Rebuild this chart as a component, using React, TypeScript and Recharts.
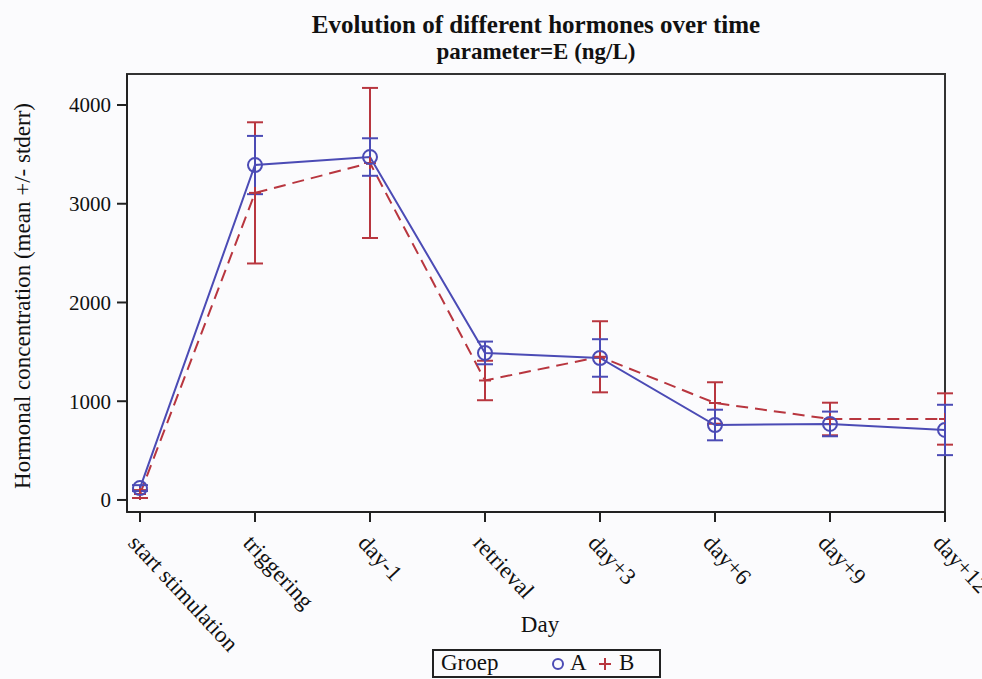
import { CartesianGrid, ErrorBar, Line, LineChart, ReferenceArea, XAxis, YAxis } from "recharts";

const DAYS = ["start stimulation", "triggering", "day-1", "retrieval", "day+3", "day+6", "day+9", "day+12"];
const GROUP_A = [120, 3392, 3473, 1489, 1438, 759, 770, 709];
const GROUP_A_ERR = [30, 295, 190, 115, 190, 155, 125, 255];
const GROUP_B = [60, 3110, 3413, 1210, 1450, 982, 820, 820];
const GROUP_B_ERR = [40, 715, 760, 200, 360, 210, 165, 260];
const Y_TICKS = [0, 1000, 2000, 3000, 4000];

const X_DOMAIN: [number, number] = [-0.113, 7];
const Y_DOMAIN: [number, number] = [-122, 4314];

const BLUE = "#4b4bb5";
const RED = "#b8363f";
const FONT = "'Liberation Serif', 'Times New Roman', serif";

const data = DAYS.map((d, i) => ({
  x: i,
  day: d,
  a: GROUP_A[i],
  aErr: GROUP_A_ERR[i],
  b: GROUP_B[i],
  bErr: GROUP_B_ERR[i],
}));

function CircleDot(props: any) {
  const { cx, cy, index } = props;
  if (cx == null || cy == null) return null;
  return <circle key={`a-${index}`} cx={cx} cy={cy} r={7} fill="none" stroke={BLUE} strokeWidth={2} />;
}

function PlusDot(props: any) {
  const { cx, cy, index } = props;
  if (cx == null || cy == null) return null;
  return (
    <g key={`b-${index}`} stroke={RED} strokeWidth={2}>
      <line x1={cx - 6} y1={cy} x2={cx + 6} y2={cy} />
      <line x1={cx} y1={cy - 6} x2={cx} y2={cy + 6} />
    </g>
  );
}

function DayTick(props: any) {
  const { x, y, payload } = props;
  const ax = x - 13;
  const ay = y + 20;
  return (
    <text
      x={ax}
      y={ay}
      transform={`rotate(47 ${ax} ${ay})`}
      textAnchor="start"
      fontFamily={FONT}
      fontSize={23}
      fill="#111"
    >
      {DAYS[payload.value]}
    </text>
  );
}

export default function App() {
  return (
    <div
      style={{
        position: "absolute",
        left: 0,
        top: 0,
        width: 982,
        height: 679,
        overflow: "hidden",
        background: "#fbfbfd",
        fontFamily: FONT,
        color: "#111",
      }}
    >
      <div style={{ position: "absolute", left: 127, width: 818, top: 10, lineHeight: "30px", textAlign: "center", fontWeight: "bold", fontSize: 25 }}>
        Evolution of different hormones over time
      </div>
      <div style={{ position: "absolute", left: 127, width: 818, top: 38, lineHeight: "28px", textAlign: "center", fontWeight: "bold", fontSize: 23 }}>
        parameter=E (ng/L)
      </div>

      <LineChart width={982} height={679} data={data} margin={{ top: 74, right: 37, bottom: 0, left: 0 }}>
        <CartesianGrid stroke="none" />
        <XAxis
          dataKey="x"
          type="number"
          domain={X_DOMAIN}
          ticks={DAYS.map((_, i) => i)}
          allowDataOverflow
          height={167}
          tickSize={10}
          axisLine={{ stroke: "#222", strokeWidth: 2 }}
          tickLine={{ stroke: "#222", strokeWidth: 2 }}
          tick={<DayTick />}
          interval={0}
        />
        <YAxis
          type="number"
          domain={Y_DOMAIN}
          ticks={Y_TICKS}
          allowDataOverflow
          width={127}
          tickSize={10}
          tickMargin={6}
          axisLine={{ stroke: "#222", strokeWidth: 2 }}
          tickLine={{ stroke: "#222", strokeWidth: 2 }}
          tick={{ fill: "#111", fontSize: 21, fontFamily: FONT }}
        />
        <ReferenceArea
          x1={X_DOMAIN[0]}
          x2={X_DOMAIN[1]}
          y1={Y_DOMAIN[0]}
          y2={Y_DOMAIN[1]}
          fill="none"
          stroke="#333"
          strokeWidth={2}
          ifOverflow="visible"
        />
        <Line
          dataKey="b"
          stroke={RED}
          strokeWidth={2}
          strokeDasharray="12 7"
          dot={PlusDot}
          activeDot={false}
          isAnimationActive={false}
        >
          <ErrorBar dataKey="bErr" width={8} stroke={RED} strokeWidth={2} direction="y" />
        </Line>
        <Line
          dataKey="a"
          stroke={BLUE}
          strokeWidth={2}
          dot={CircleDot}
          activeDot={false}
          isAnimationActive={false}
        >
          <ErrorBar dataKey="aErr" width={8} stroke={BLUE} strokeWidth={2} direction="y" />
        </Line>
      </LineChart>

      <div
        style={{
          position: "absolute",
          left: 23,
          top: 296,
          transform: "translate(-50%, -50%) rotate(-90deg)",
          whiteSpace: "nowrap",
          fontSize: 23,
        }}
      >
        Hormonal concentration (mean +/- stderr)
      </div>

      <div style={{ position: "absolute", left: 490, width: 100, top: 610, lineHeight: "30px", textAlign: "center", fontSize: 23 }}>Day</div>

      <div
        style={{
          position: "absolute",
          left: 432,
          top: 649,
          width: 229,
          height: 29,
          border: "2px solid #222",
          boxSizing: "border-box",
          fontSize: 23,
        }}
      >
        <span style={{ position: "absolute", left: 7, top: -2, lineHeight: "28px" }}>Groep</span>
        <svg width={16} height={16} style={{ position: "absolute", left: 116, top: 5 }}>
          <circle cx={8} cy={8} r={5} fill="none" stroke={BLUE} strokeWidth={2} />
        </svg>
        <span style={{ position: "absolute", left: 136, top: -2, lineHeight: "28px" }}>A</span>
        <svg width={16} height={16} style={{ position: "absolute", left: 163, top: 5 }}>
          <g stroke={RED} strokeWidth={2}>
            <line x1={2} y1={8} x2={14} y2={8} />
            <line x1={8} y1={2} x2={8} y2={14} />
          </g>
        </svg>
        <span style={{ position: "absolute", left: 185, top: -2, lineHeight: "28px" }}>B</span>
      </div>
    </div>
  );
}
